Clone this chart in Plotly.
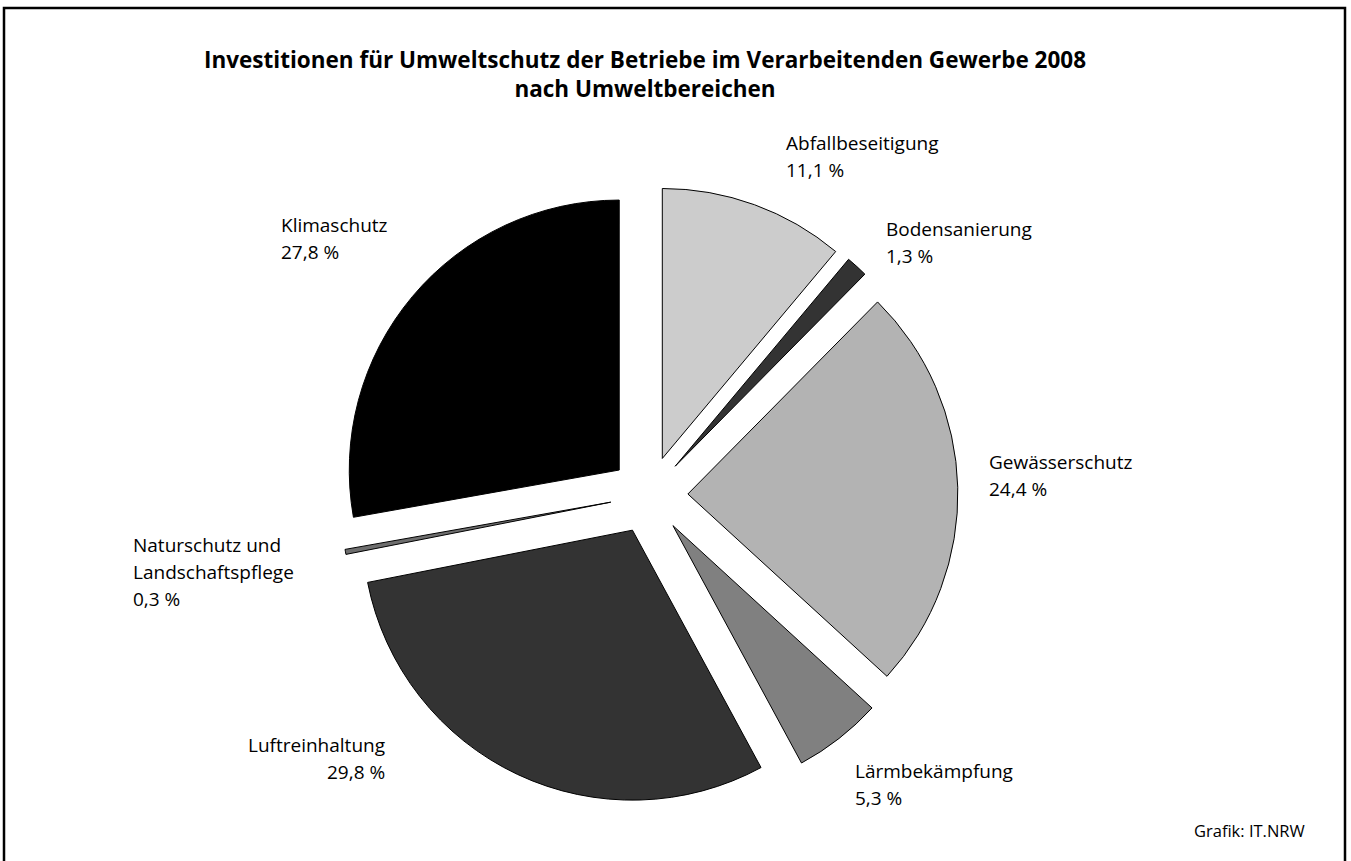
import plotly.graph_objects as go

W, H = 1351, 861

# ---- data ----
categories = ["Abfallbeseitigung", "Bodensanierung", "Gewässerschutz", "Lärmbekämpfung",
              "Luftreinhaltung", "Naturschutz und<br>Landschaftspflege", "Klimaschutz"]
shares = [11.1, 1.3, 24.4, 5.3, 29.8, 0.3, 27.8]
colors = ["#cccccc", "#333333", "#b3b3b3", "#808080", "#333333", "#6e6e6e", "#000000"]

title_lines = ["Investitionen für Umweltschutz der Betriebe im Verarbeitenden Gewerbe 2008",
               "nach Umweltbereichen"]
source_text = "Grafik: IT.NRW"

# label placement (pixel anchor of first line, alignment)
label_pos = [(784, 143, "left"), (884, 229, "left"), (987, 462, "left"), (853, 771, "left"),
             (387, 745, "right"), (131, 545, "left"), (279, 225, "left")]
LINE = 27
FONT = "Open Sans, Frutiger, Arial, sans-serif"


def px(x):
    return x / W


def py(y):
    return 1 - y / H


fig = go.Figure(go.Pie(
    labels=categories,
    values=shares,
    sort=False,
    direction="clockwise",
    rotation=0,
    pull=0.144,
    marker=dict(colors=colors, line=dict(color="#000000", width=1)),
    textinfo="none",
    hoverinfo="label+value",
    showlegend=False,
    domain=dict(x=[0.2518, 0.7090], y=[0.0663, 0.7839]),
))

annotations = [dict(text="<br>".join("<b>" + t + "</b>" for t in title_lines),
                    x=px(645), y=py(74), xref="paper", yref="paper",
                    xanchor="center", yanchor="middle", align="center", showarrow=False,
                    font=dict(family=FONT, size=22.5, color="#000"))]

for cat, val, (lx, ly, al) in zip(categories, shares, label_pos):
    lines = cat.split("<br>") + [f"{val:.1f}".replace(".", ",") + " %"]
    for j, ln in enumerate(lines):
        annotations.append(dict(text=ln, x=px(lx), y=py(ly + j * LINE), xref="paper", yref="paper",
                                xanchor=al, yanchor="middle", showarrow=False,
                                font=dict(family=FONT, size=19, color="#000")))

annotations.append(dict(text=source_text, x=px(1307), y=py(830), xref="paper", yref="paper",
                        xanchor="right", yanchor="middle", showarrow=False,
                        font=dict(family=FONT, size=16.5, color="#000")))

fig.update_layout(
    width=W, height=H,
    margin=dict(l=0, r=0, t=0, b=0),
    paper_bgcolor="#ffffff",
    plot_bgcolor="#ffffff",
    annotations=annotations,
    shapes=[dict(type="rect", xref="paper", yref="paper", x0=px(4), x1=px(1345), y0=py(875), y1=py(8),
                 line=dict(color="#000000", width=2.5), fillcolor="rgba(0,0,0,0)")],
)

fig.write_html("out.html", config={"displayModeBar": False},
               post_script="document.body.style.margin='0px';")
